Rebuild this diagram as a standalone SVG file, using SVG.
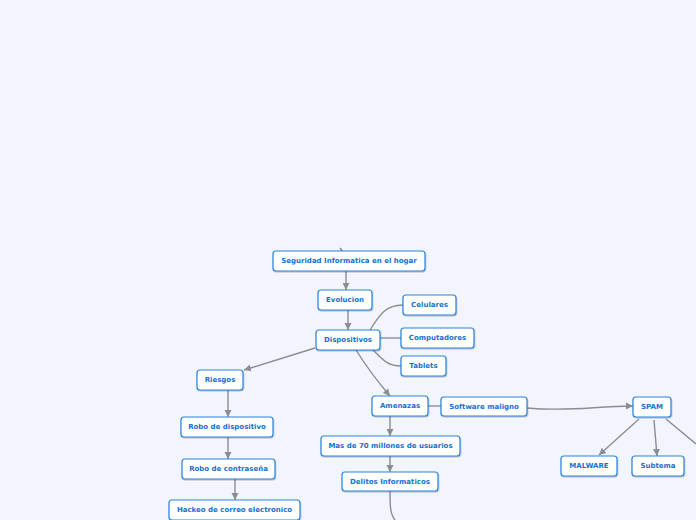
<svg xmlns="http://www.w3.org/2000/svg" width="696" height="520" viewBox="0 0 696 520">
<defs>
<marker id="ah" markerWidth="8" markerHeight="8" refX="7" refY="4" orient="auto" markerUnits="userSpaceOnUse">
<path d="M0,0.5 L7,4 L0,7.5 Z" fill="#8a8d94"/>
</marker>
<filter id="sh" x="-10%" y="-20%" width="120%" height="160%">
<feDropShadow dx="0.5" dy="1" stdDeviation="0.6" flood-color="#000" flood-opacity="0.25"/>
</filter>
</defs>
<style>
.n rect{fill:#fff;stroke:#2a82dc;stroke-width:1.2;filter:url(#sh)}
.n text{font-family:"DejaVu Sans",Verdana,sans-serif;font-weight:bold;font-size:7px;fill:#1570d0;text-anchor:middle;dominant-baseline:central}
.c path{fill:none;stroke:#8a8d94;stroke-width:1.4}
.c .a{marker-end:url(#ah)}
</style>
<rect width="696" height="520" fill="#f2f5fd"/>
<g class="c" id="connectors">
<path d="M340,248 L343,252"/>
<path class="a" d="M346,271 L346,290"/>
<path class="a" d="M348,310 L348,330"/>
<path d="M370,330 C380,314 386,305 403,305"/>
<path d="M380,338 L401,338"/>
<path d="M373,350 C383,360 388,366 401,366"/>
<path class="a" d="M315,348 L244,370"/>
<path class="a" d="M356,350 C366,366 378,382 390,396"/>
<path class="a" d="M228,390 L228,417"/>
<path class="a" d="M228,437 L228,459"/>
<path class="a" d="M235,479 L235,500"/>
<path d="M428,406 L441,406"/>
<path class="a" d="M390,416 L390,436"/>
<path class="a" d="M390,456 L390,472"/>
<path d="M390,491 C390,505 390,514 395,520"/>
<path class="a" d="M527,408 C570,412 595,406 633,406"/>
<path class="a" d="M639,419 L599,455"/>
<path class="a" d="M654,420 L657,456"/>
<path d="M666,419 L696,444"/>
</g>
<g class="n" id="n-seguridad"><rect x="273" y="251" width="152" height="20" rx="3"/><text x="349" y="261">Seguridad Informatica en el hogar</text></g>
<g class="n" id="n-evolucion"><rect x="318" y="290" width="54" height="20" rx="3"/><text x="345" y="300">Evolucion</text></g>
<g class="n" id="n-dispositivos"><rect x="316" y="330" width="64" height="20" rx="3"/><text x="348" y="340">Dispositivos</text></g>
<g class="n" id="n-celulares"><rect x="403" y="295" width="53" height="20" rx="3"/><text x="429.5" y="305">Celulares</text></g>
<g class="n" id="n-computadores"><rect x="401" y="328" width="73" height="20" rx="3"/><text x="437.5" y="338">Computadores</text></g>
<g class="n" id="n-tablets"><rect x="401" y="356" width="45" height="20" rx="3"/><text x="423.5" y="366">Tablets</text></g>
<g class="n" id="n-riesgos"><rect x="197" y="370" width="46" height="20" rx="3"/><text x="220" y="380">Riesgos</text></g>
<g class="n" id="n-robo-disp"><rect x="181" y="417" width="92" height="20" rx="3"/><text x="227" y="427">Robo de dispositivo</text></g>
<g class="n" id="n-robo-contra"><rect x="182" y="459" width="93" height="20" rx="3"/><text x="228.5" y="469">Robo de contraseña</text></g>
<g class="n" id="n-hackeo"><rect x="169" y="500" width="131" height="20" rx="3"/><text x="234.5" y="510">Hackeo de correo electronico</text></g>
<g class="n" id="n-amenazas"><rect x="372" y="396" width="56" height="20" rx="3"/><text x="400" y="406">Amenazas</text></g>
<g class="n" id="n-software"><rect x="441" y="397" width="86" height="19" rx="3"/><text x="484" y="406.5">Software maligno</text></g>
<g class="n" id="n-mas70"><rect x="321" y="436" width="139" height="20" rx="3"/><text x="390.5" y="446">Mas de 70 millones de usuarios</text></g>
<g class="n" id="n-delitos"><rect x="342" y="472" width="96" height="19" rx="3"/><text x="390" y="481.5">Delitos Informaticos</text></g>
<g class="n" id="n-spam"><rect x="633" y="397" width="38" height="20" rx="3"/><text x="652" y="407">SPAM</text></g>
<g class="n" id="n-malware"><rect x="561" y="456" width="56" height="20" rx="3"/><text x="589" y="466">MALWARE</text></g>
<g class="n" id="n-subtema"><rect x="632" y="456" width="52" height="20" rx="3"/><text x="658" y="466">Subtema</text></g>
</svg>
